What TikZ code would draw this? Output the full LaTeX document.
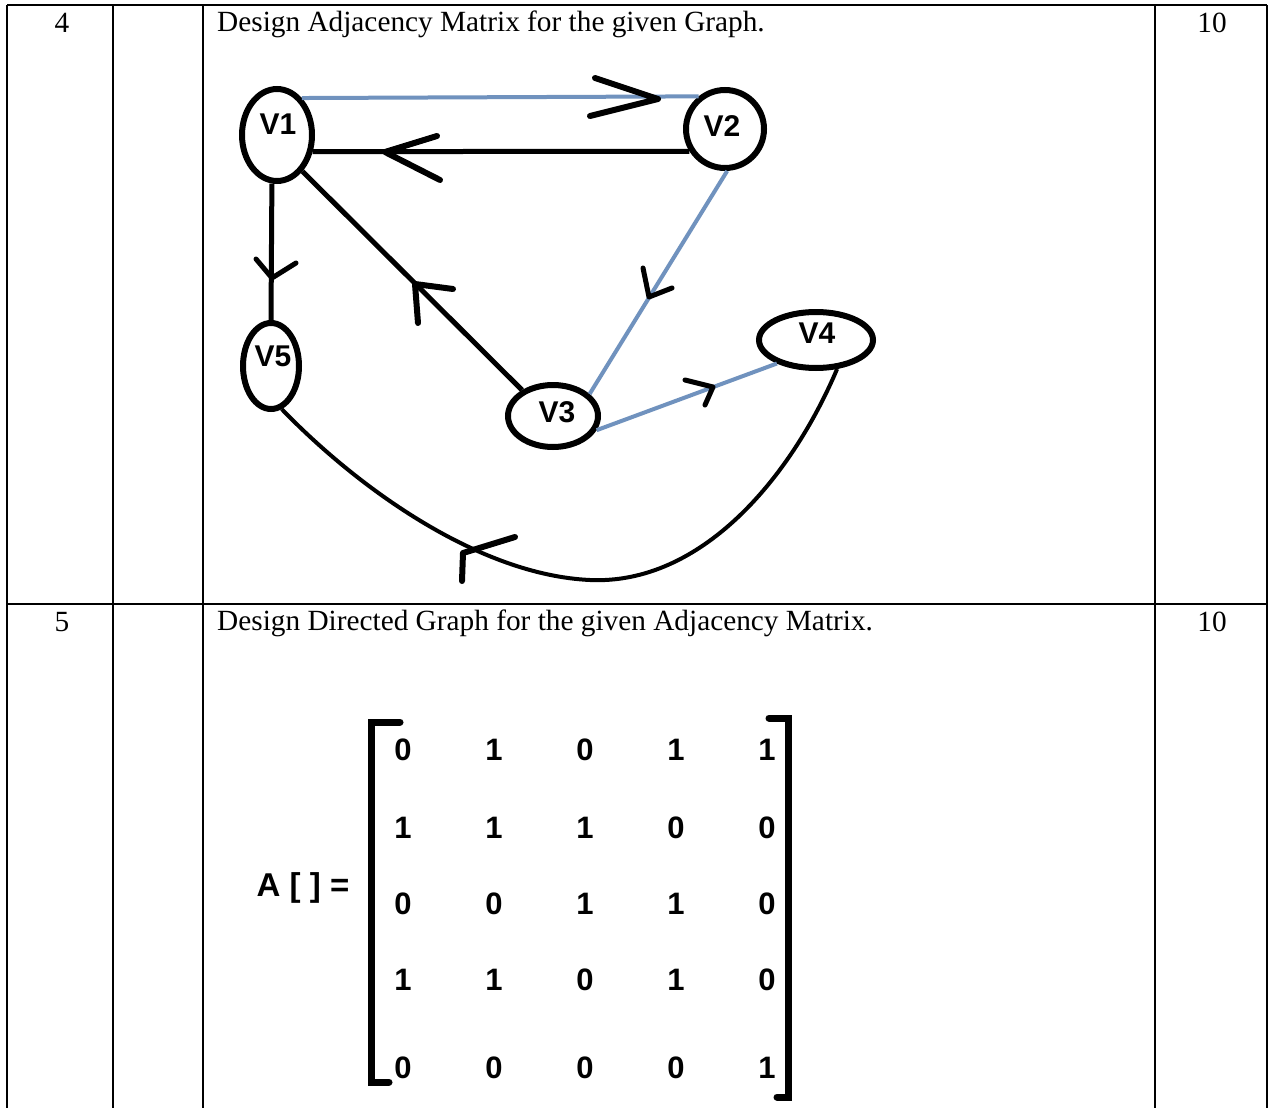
\documentclass[tikz,border=0pt]{standalone}
\usepackage{fontspec}
\setmainfont{Liberation Serif}
\newfontfamily\arialfont{Liberation Sans}
\usetikzlibrary{shapes.geometric}
\definecolor{edgeblue}{RGB}{112,146,190}
\begin{document}
\begin{tikzpicture}[x=1pt,y=-1pt,
  rule/.style={line width=1.6pt},
  cell/.style={font=\fontsize{29.3}{29.3}\selectfont,inner sep=0pt},
  vtx/.style={ellipse,draw,line width=6pt,inner sep=0pt},
  vname/.style={font=\arialfont\bfseries\fontsize{30}{30}\selectfont,inner sep=0pt},
  darkedge/.style={line width=5pt},
  blueedge/.style={line width=4pt,draw=edgeblue},
  headstroke/.style={line width=6pt,line cap=round,line join=round},
  entry/.style={font=\arialfont\bfseries\fontsize{31}{31}\selectfont,inner sep=0pt},
  brack/.style={line width=7pt,line cap=round,line join=miter}]
\useasboundingbox (0,0) rectangle (1269,1108);
\fill[white] (0,0) rectangle (1269,1108);

% table rules
\draw[rule] (7,5) -- (1267,5);
\draw[rule] (7,604) -- (1267,604);
\foreach \xx in {7,113,203,1155,1267}
  \draw[rule] (\xx,5) -- (\xx,1108);

% table cells
\node[cell,anchor=base] (q4) at (62,33) {4};
\node[cell,anchor=base] (m4) at (1212,33) {10};
\node[cell,anchor=base west] (t4) at (217,32) {Design Adjacency Matrix for the given Graph.};
\node[cell,anchor=base] (q5) at (62,631) {5};
\node[cell,anchor=base] (m5) at (1212,631) {10};
\node[cell,anchor=base west] (t5) at (217,630) {Design Directed Graph for the given Adjacency Matrix.};

% vertices
\node[vtx,minimum width=70pt,minimum height=92pt] (v1) at (277,135) {};
\node[vtx,minimum width=78pt,minimum height=78pt] (v2) at (725,129) {};
\node[vtx,minimum width=90pt,minimum height=62pt] (v3) at (553,416) {};
\node[vtx,minimum width=114pt,minimum height=56pt] (v4) at (816,340) {};
\node[vtx,minimum width=56pt,minimum height=86pt] (v5) at (271,366) {};
\node[vname] (l1) at (278,124) {V1};
\node[vname] (l2) at (722,126) {V2};
\node[vname] (l3) at (557,412) {V3};
\node[vname] (l4) at (817,333) {V4};
\node[vname] (l5) at (273,356) {V5};

% edges
\draw[blueedge] (v1.56) -- (v2.129);
\draw[darkedge] (v2.-148) -- (v1.-25);
\draw[darkedge] (v1.-96) -- (v5.90);
\draw[darkedge] (v3.140) -- (v1.-55);
\draw[blueedge] (v2.-87) -- (v3.31);
\draw[blueedge] (v3.-18) -- (v4.-149);
\draw[darkedge,line width=4pt] (v4.-54) .. controls (790,480) and (700,585) .. (590,580)
  .. controls (480,575) and (360,490) .. (v5.-76);

% hand-drawn arrow heads
\draw[headstroke] (595,78) -- (658,99) -- (590,116);
\draw[headstroke] (437,136) -- (385,152) -- (440,180);
\draw[headstroke,line width=5pt] (256,259) -- (272,278) -- (296,263);
\draw[headstroke] (453,289) -- (415,284) -- (418,323);
\draw[headstroke,line width=5pt] (643,268) -- (649,297) -- (672,288);
\draw[headstroke,line width=5pt] (685,380) -- (713,387) -- (705,405);
\draw[headstroke] (515,537) -- (463,553) -- (462,581);

% adjacency matrix
\node[entry,font=\arialfont\bfseries\fontsize{33}{33}\selectfont] (alabel) at (303,888) {A [ ] =};
\foreach \row/\yy/\vals in {1/750/{0,1,0,1,1},2/828/{1,1,1,0,0},3/904/{0,0,1,1,0},4/980/{1,1,0,1,0},5/1068/{0,0,0,0,1}}{
  \foreach \v [count=\c] in \vals {
    \pgfmathsetmacro\xx{403+91*(\c-1)}
    \node[entry] (a\row\c) at (\xx,\yy) {\v};
  }
}
\draw[brack] (400,722) -- (371,722) -- (371,1082) -- (389,1082);
\draw[brack] (769,718) -- (788,718) -- (788,1097) -- (777,1097);
\end{tikzpicture}
\end{document}
